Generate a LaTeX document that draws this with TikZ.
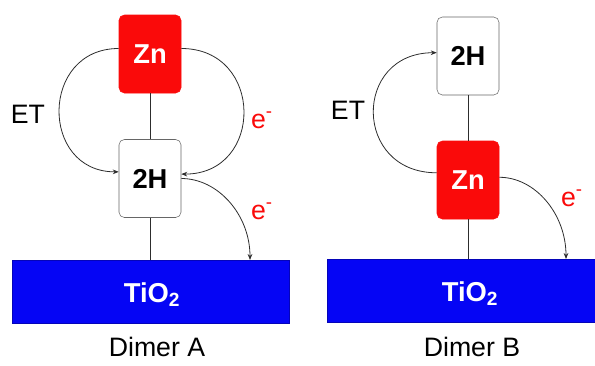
\documentclass[tikz,border=0pt]{standalone}
\usepackage{fontspec}
\setmainfont{Liberation Sans}
\usepackage{tikz}
\usetikzlibrary{arrows.meta, positioning}
\definecolor{znred}{RGB}{250,10,10}
\definecolor{tioblue}{RGB}{5,5,245}
\definecolor{linegray}{RGB}{45,45,45}
\tikzstyle{zinc} = [rectangle, rounded corners=4pt, inner sep=0pt,
 minimum width=46.5pt, minimum height=58.5pt,
 draw=znred, fill=znred, text=white, font=\fontsize{20.5}{24}\selectfont\bfseries]
\tikzstyle{freebase} = [rectangle, rounded corners=4pt, inner sep=0pt,
 minimum width=46.5pt, minimum height=58.5pt,
 draw=gray!80!black, fill=white, font=\fontsize{20.5}{24}\selectfont\bfseries]
\tikzstyle{oxide} = [rectangle, inner sep=0pt, minimum height=47.25pt,
 fill=tioblue, draw=tioblue!75!black]
\tikzstyle{oxtext} = [anchor=base, text=white, font=\fontsize{20.5}{24}\selectfont\bfseries]
\tikzstyle{tag} = [anchor=base, font=\fontsize{20}{24}\selectfont]
\tikzstyle{etag} = [anchor=base, text=znred, font=\fontsize{20}{24}\selectfont]
\tikzstyle{link} = [draw=linegray, line width=0.6pt]
\tikzstyle{arrow} = [draw=linegray, line width=0.6pt, -{Stealth[length=4.5pt,width=3.5pt]}]

\begin{document}
\begin{tikzpicture}[x=0.75pt, y=-0.75pt]
\useasboundingbox (0,0) rectangle (595,365);
% Dimer A
\node (znA) [zinc] at (150,54) {Zn};
\node (hA) [freebase] at (150,178.5) {2H};
\node (barA) [oxide, minimum width=207.75pt] at (150.5,291.5) {};
\node (tiA) [oxtext] at (152,302) {TiO\textsubscript{2}};
\node (capA) [tag] at (157,356) {Dimer A};
\node (etA) [tag] at (28,123) {ET};
\node (eA1) [etag] at (262,128) {e\textsuperscript{-}};
\node (eA2) [etag] at (262,219) {e\textsuperscript{-}};
\coordinate (inA) at (250,260);
\draw[link] (znA) -- (hA);
\draw[link] (hA.south) -- (hA.south |- barA.north);
\draw[arrow] (znA.170) .. controls +(-79,0) and +(-79,0) .. (hA.168);
\draw[arrow] (znA.10) .. controls +(83,0) and +(83,0) .. (hA.8);
\draw[arrow] (hA.east) .. controls +(37,0) and +(0,-45) .. (inA);
% Dimer B
\node (hB) [freebase] at (468,56) {2H};
\node (znB) [zinc] at (468,180) {Zn};
\node (barB) [oxide, minimum width=201pt] at (461,290.5) {};
\node (tiB) [oxtext] at (470,301) {TiO\textsubscript{2}};
\node (capB) [tag] at (472,356) {Dimer B};
\node (etB) [tag] at (348,119) {ET};
\node (eB) [etag] at (572,206) {e\textsuperscript{-}};
\coordinate (inB) at (566,259);
\draw[link] (hB) -- (znB);
\draw[link] (znB.south) -- (znB.south |- barB.north);
\draw[arrow] (znB.167) .. controls +(-84,0) and +(-84,0) .. (hB.174);
\draw[arrow] (znB.5) .. controls +(36,0) and +(0,-45) .. (inB);
\end{tikzpicture}
\end{document}
